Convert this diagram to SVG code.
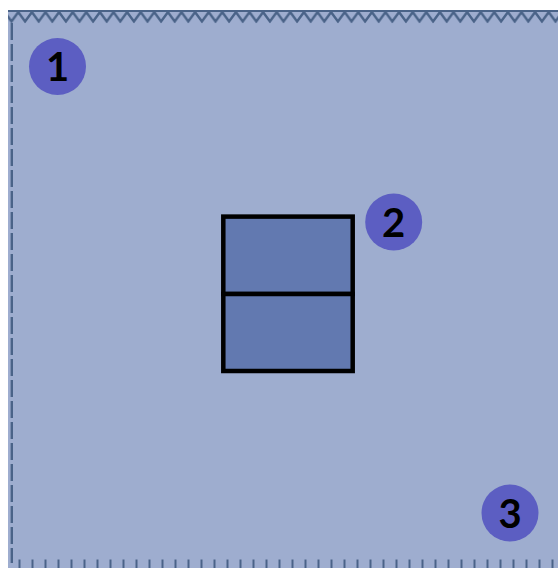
<svg xmlns="http://www.w3.org/2000/svg" width="558" height="568" viewBox="0 0 558 568">
  <defs>
    <style>
      .badge { fill: #5c5ec2; }
      .num { font-family: "Lato", "Open Sans", "Liberation Sans", sans-serif; font-weight: bold; font-size: 40px; fill: #000; text-anchor: middle; }
      .cell { fill: #6279b0; stroke: #000; stroke-width: 4.5; }
      .edge { stroke: #4a6388; fill: none; }
    </style>
    <pattern id="ticks" x="18.5" y="0" width="13" height="10" patternUnits="userSpaceOnUse">
      <rect x="0" y="0" width="2" height="10" fill="#4a6388"/>
    </pattern>
    <pattern id="zig" x="4.7" y="0" width="13.6" height="30" patternUnits="userSpaceOnUse">
      <polyline points="-1,10.7 6.8,21.5 14.6,10.7" fill="none" stroke="#4a6388" stroke-width="2.4"/>
    </pattern>
  </defs>
  <rect width="558" height="568" fill="#ffffff"/>
  <g id="sheet">
    <rect x="8" y="10" width="550" height="558" fill="#9eadcf"/>
    <rect x="8" y="10" width="550" height="13.5" fill="url(#zig)"/>
    <line class="edge" x1="8" y1="11" x2="558" y2="11" stroke-width="2"/>
    <line class="edge" x1="11.8" y1="23" x2="11.8" y2="563" stroke-width="2.4" stroke-dasharray="17 4"/>
    <rect x="14" y="559.5" width="544" height="8.5" fill="url(#ticks)"/>
  </g>
  <g id="node-1">
    <circle class="badge" cx="57.5" cy="66.5" r="28.5"/>
    <text class="num" x="57.5" y="81">1</text>
  </g>
  <g id="node-2">
    <rect class="cell" x="223.3" y="216.6" width="129.4" height="77.4"/>
    <rect class="cell" x="223.3" y="294" width="129.4" height="77"/>
    <circle class="badge" cx="393.7" cy="222" r="28.5"/>
    <text class="num" x="393.7" y="236.5">2</text>
  </g>
  <g id="node-3">
    <circle class="badge" cx="510" cy="513" r="28.5"/>
    <text class="num" x="510" y="527.5">3</text>
  </g>
  <g id="connectors"/>
</svg>
